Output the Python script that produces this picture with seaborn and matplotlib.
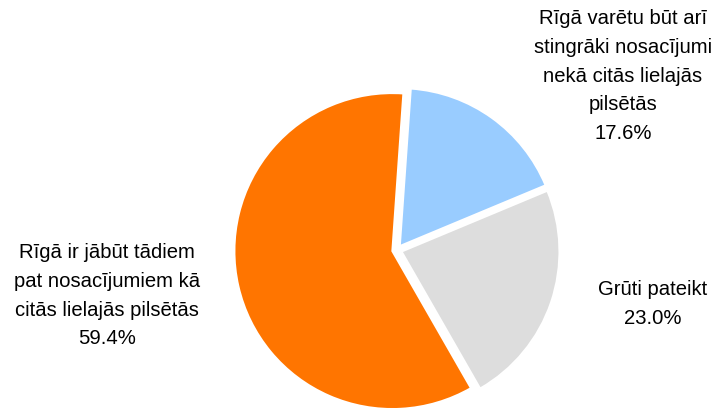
import matplotlib
matplotlib.use("Agg")
import matplotlib.pyplot as plt
import seaborn as sns

# Dati: atbilžu daļas (%)
labels = [
    "Rīgā varētu būt arī\nstingrāki nosacījumi\nnekā citās lielajās\npilsētās",
    "Grūti pateikt",
    "Rīgā ir jābūt tādiem\npat nosacījumiem kā\ncitās lielajās pilsētās",
]
values = [17.6, 23.0, 59.4]
colors = ["#99CCFF", "#DDDDDD", "#FF7500"]
# teksta centru novietojums (pīrāga rādiusa vienībās)
label_pos = [(1.43, 1.10), (1.62, -0.34), (-1.835, -0.29)]

sns.set_theme(style="white")
plt.rcParams["font.family"] = ["Liberation Sans", "DejaVu Sans"]

fig = plt.figure(figsize=(7.17, 4.12), dpi=100)
ax = fig.add_axes([0, 0, 1, 1])

wedges, _ = ax.pie(
    values,
    colors=colors,
    startangle=86,
    counterclock=False,
    explode=[0.03, 0.03, 0.03],
    wedgeprops=dict(edgecolor="white", linewidth=1.5),
)

for lab, val, (x, y) in zip(labels, values, label_pos):
    ax.text(x, y, f"{lab}\n{val:.1f}%", ha="center", va="center",
            fontsize=14.6, linespacing=1.65, color="black")

ax.set_aspect("equal")
ax.set_xlim(-397 / 158, 320 / 158)
ax.set_ylim(-162 / 158, 250 / 158)
ax.axis("off")

fig.savefig("out.png", dpi=100)
